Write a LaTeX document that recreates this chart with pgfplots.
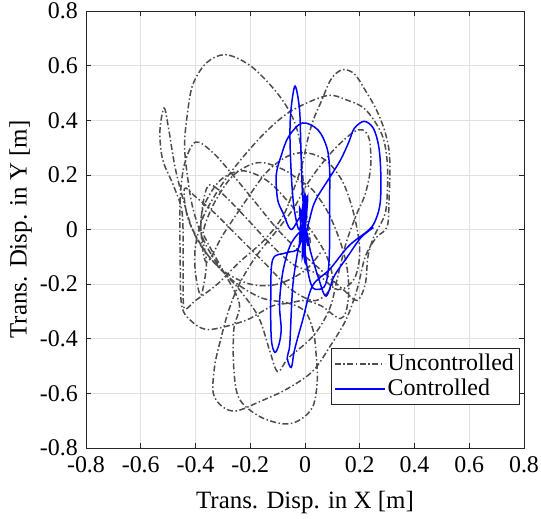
\documentclass[border=0pt]{standalone}
\usepackage{pgfplots}
\pgfplotsset{compat=1.18}
\usepackage{fontspec}
\setmainfont{Liberation Serif}
\definecolor{ungray}{RGB}{77,77,77}
\definecolor{axgray}{RGB}{38,38,38}
\begin{document}
\fontsize{24}{28}\selectfont
\begin{tikzpicture}
\begin{axis}[
 scale only axis, width=438bp, height=437bp,
 xmin=-0.8, xmax=0.8, ymin=-0.8, ymax=0.8,
 xtick={-0.8,-0.6,-0.4,-0.2,0,0.2,0.4,0.6,0.8},
 ytick={-0.8,-0.6,-0.4,-0.2,0,0.2,0.4,0.6,0.8},
 xticklabels={\textrm{-0.8},\textrm{-0.6},\textrm{-0.4},\textrm{-0.2},\textrm{0},\textrm{0.2},\textrm{0.4},\textrm{0.6},\textrm{0.8}},
 yticklabels={\textrm{-0.8},\textrm{-0.6},\textrm{-0.4},\textrm{-0.2},\textrm{0},\textrm{0.2},\textrm{0.4},\textrm{0.6},\textrm{0.8}},
 tick align=inside, major tick length=5bp,
 grid=major, major grid style={black!12, line width=0.6bp},
 axis line style={axgray, line width=0.6bp},
 tick style={axgray, line width=0.6bp},
 xlabel={Trans. Disp. in X [m]}, ylabel={Trans. Disp. in Y [m]},
 tick label style={font=\fontsize{24}{28}\selectfont},
 label style={font=\fontsize{25}{28}\selectfont},
 xlabel style={yshift=-3bp}, ylabel style={yshift=-8bp},
 legend style={at={(0.989,0.1)}, anchor=south east, font=\fontsize{24}{27}\selectfont, draw=axgray, line width=0.6bp, inner sep=3bp, row sep=1bp},
 legend cell align=left,
 legend image code/.code={\draw[#1] (0bp,0bp) -- (50bp,0bp);},
]
\addplot[ungray, line width=1.5bp, dash pattern=on 6bp off 2.5bp on 1.5bp off 2.5bp, smooth, tension=0.55,
 legend image post style={draw=ungray, line width=1.5bp}] coordinates {
(0.02,-0.05) (0.0,0.1) (-0.01,0.22) (-0.02,0.33) (-0.05,0.42) (-0.11,0.51) (-0.2,0.6) (-0.29,0.64) (-0.36,0.61) (-0.41,0.53) (-0.43,0.42) (-0.44,0.31) (-0.43,0.2) (-0.41,0.08) (-0.37,-0.04) (-0.31,-0.14) (-0.24,-0.22) (-0.17,-0.32) (-0.13,-0.44) (-0.10,-0.52) (-0.06,-0.47) (0.03,-0.39) (0.09,-0.29) (0.12,-0.17) (0.15,-0.05) (0.186,0.05) (0.22,0.13) (0.24,0.23) (0.235,0.33) (0.21,0.365) (0.175,0.355) (0.113,0.30) (0.053,0.23) (0.004,0.16) (-0.04,0.08) (-0.1,0.0) (-0.18,-0.1) (-0.24,-0.2) (-0.28,-0.3) (-0.31,-0.41) (-0.33,-0.5) (-0.335,-0.6) (-0.30,-0.65) (-0.25,-0.664) (-0.165,-0.63) (-0.068,-0.585) (0.027,-0.52) (0.09,-0.43) (0.15,-0.33) (0.19,-0.22) (0.22,-0.1) (0.26,-0.03) (0.30,0.01) (0.307,0.11) (0.31,0.21) (0.307,0.29) (0.29,0.365) (0.26,0.44) (0.22,0.51) (0.18,0.57) (0.136,0.585) (0.095,0.55) (0.06,0.47) (0.03,0.40) (0.01,0.33) (-0.01,0.24) (-0.04,0.15) (-0.08,0.05) (-0.15,-0.04) (-0.24,-0.12) (-0.32,-0.2) (-0.40,-0.26) (-0.44,-0.29) (-0.445,-0.2) (-0.445,-0.05) (-0.45,0.07) (-0.48,0.16) (-0.52,0.256) (-0.53,0.36) (-0.515,0.445) (-0.50,0.38) (-0.475,0.23) (-0.445,0.11) (-0.41,0.0) (-0.35,-0.1) (-0.26,-0.19) (-0.16,-0.25) (-0.06,-0.27) (0.0,-0.3) (0.03,-0.37) (0.04,-0.45) (0.045,-0.55) (0.03,-0.645) (-0.015,-0.695) (-0.075,-0.712) (-0.165,-0.685) (-0.24,-0.62) (-0.26,-0.51) (-0.26,-0.365) (-0.24,-0.27) (-0.3,-0.15) (-0.36,-0.04) (-0.37,0.0) (-0.33,0.1) (-0.26,0.2) (-0.17,0.245) (-0.08,0.22) (-0.02,0.18) (0.027,0.146) (0.08,0.07) (0.12,-0.02) (0.15,-0.12) (0.16,-0.22) (0.15,-0.3) (0.13,-0.326) (0.1,-0.31) (0.06,-0.28) (0.0,-0.26) (-0.06,-0.27) (-0.12,-0.28) (-0.21,-0.33) (-0.31,-0.36) (-0.365,-0.365) (-0.41,-0.34) (-0.45,-0.28) (-0.456,-0.1) (-0.456,0.11) (-0.44,0.24) (-0.40,0.32) (-0.335,0.28) (-0.26,0.195) (-0.19,0.11) (-0.10,0.0) (-0.02,-0.08) (0.06,-0.15) (0.14,-0.22) (0.19,-0.26) (0.22,-0.2) (0.23,-0.1) (0.25,-0.03) (0.29,0.05) (0.30,0.12) (0.30,0.25) (0.28,0.35) (0.22,0.44) (0.15,0.475) (0.08,0.49) (-0.044,0.438) (-0.13,0.37) (-0.214,0.28) (-0.3,0.17) (-0.37,0.05) (-0.40,-0.06) (-0.40,-0.16) (-0.38,-0.24) (-0.36,-0.12) (-0.38,0.0) (-0.37,0.11) (-0.347,0.164) (-0.29,0.12) (-0.21,0.037) (-0.12,-0.06) (-0.04,-0.13) (0.04,-0.16) (0.12,-0.22) (0.18,-0.18) (0.2,-0.08) (0.18,0.05) (0.14,0.17) (0.08,0.25) (0.01,0.28) (-0.06,0.27) (-0.14,0.21) (-0.22,0.1) (-0.30,-0.02) (-0.36,-0.12) (-0.38,0.0) (-0.37,0.085) (-0.31,0.18) (-0.23,0.215) (-0.14,0.18) (-0.06,0.1) (0.02,0.0) (0.08,-0.1) (0.1,-0.2) (0.04,-0.26) (-0.05,-0.22) (-0.15,-0.12) (-0.25,-0.02) (-0.33,0.06) (-0.40,0.12) (-0.44,0.15) (-0.43,0.05) (-0.38,-0.06) (-0.3,-0.15) (-0.2,-0.2) (-0.1,-0.2) (0.0,-0.15) (0.06,-0.08)
};
\addlegendentry{Uncontrolled}
\addplot[blue, line width=1.5bp, smooth, tension=0.55,
 legend image post style={draw=blue, line width=1.5bp}] coordinates {
(0,0) (-0.01,0.15) (-0.015,0.30) (-0.02,0.44) (-0.036,0.525) (-0.05,0.45) (-0.055,0.35) (-0.05,0.2) (-0.04,0.08) (-0.02,0.0) (0.0,0.13) (-0.01,-0.1) (0.01,0.12) (-0.02,-0.05) (-0.005,0.1) (0.0,-0.12) (-0.02,0.08) (0.01,-0.06) (-0.01,0.05) (-0.05,0.0) (-0.08,0.06) (-0.1,0.11) (-0.105,0.2) (-0.087,0.27) (-0.06,0.34) (-0.01,0.39) (0.047,0.365) (0.08,0.3) (0.09,0.22) (0.09,0.1) (0.09,-0.05) (0.085,-0.15) (0.07,-0.21) (0.03,-0.215) (0.01,-0.15) (0.0,-0.05) (0.02,0.05) (0.04,0.11) (0.09,0.19) (0.13,0.255) (0.16,0.32) (0.18,0.37) (0.216,0.396) (0.25,0.37) (0.27,0.3) (0.277,0.2) (0.275,0.1) (0.26,0.04) (0.235,0.0) (0.16,-0.06) (0.09,-0.146) (0.027,-0.207) (-0.008,-0.33) (-0.038,-0.44) (-0.05,-0.505) (-0.065,-0.47) (-0.056,-0.426) (-0.05,-0.3) (-0.044,-0.2) (-0.03,-0.1) (-0.01,0.0) (0.005,0.12) (-0.01,-0.08) (0.0,0.1) (-0.02,-0.06) (-0.068,-0.085) (-0.118,-0.11) (-0.125,-0.25) (-0.123,-0.4) (-0.11,-0.45) (-0.095,-0.42) (-0.087,-0.365) (-0.093,-0.27) (-0.08,-0.15) (-0.05,-0.05) (0.0,0.0) (0.02,-0.08) (0.05,-0.18) (0.077,-0.244) (0.107,-0.17) (0.155,-0.1) (0.204,-0.03) (0.25,0.007)
};
\addlegendentry{Controlled}
\end{axis}
\pgfresetboundingbox
\path[use as bounding box] ([shift={(-86bp,-70bp)}]current axis.south west) rectangle ([shift={(17bp,11bp)}]current axis.north east);
\end{tikzpicture}
\end{document}
